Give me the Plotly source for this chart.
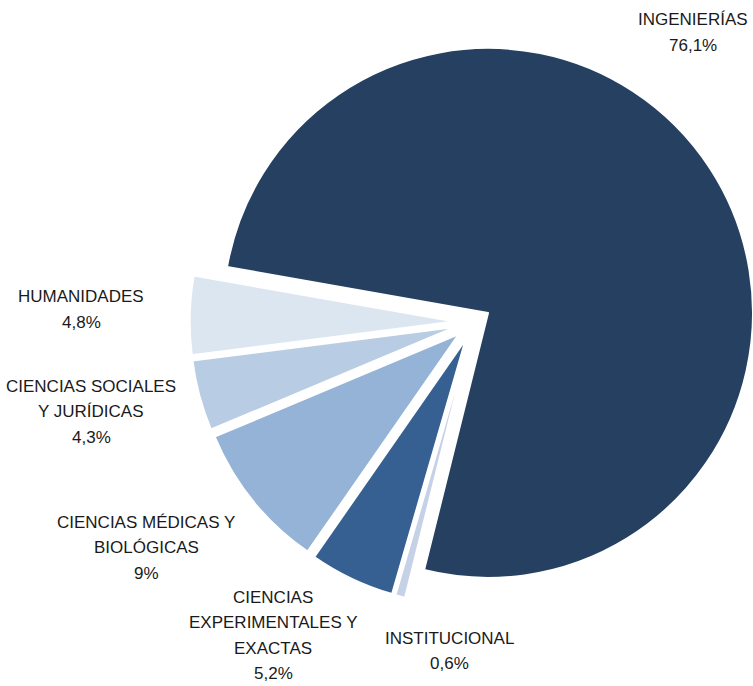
import math
import plotly.graph_objects as go

# ---- data ----
categories = ["INGENIERÍAS", "INSTITUCIONAL", "CIENCIAS EXPERIMENTALES Y EXACTAS",
              "CIENCIAS MÉDICAS Y BIOLÓGICAS", "CIENCIAS SOCIALES Y JURÍDICAS", "HUMANIDADES"]
shares = [76.1, 0.6, 5.2, 9.0, 4.3, 4.8]
label_lines = [["INGENIERÍAS"], ["INSTITUCIONAL"],
               ["CIENCIAS", "EXPERIMENTALES Y", "EXACTAS"],
               ["CIENCIAS MÉDICAS Y", "BIOLÓGICAS"],
               ["CIENCIAS SOCIALES", "Y JURÍDICAS"],
               ["HUMANIDADES"]]

# ---- style ----
colors = ["#254061", "#C5D1E6", "#366092", "#95B3D7", "#B8CCE4", "#DCE6F1"]
pulls = [0.063, 0.073, 0.073, 0.073, 0.073, 0.073]   # explosion, fraction of radius
ROTATION = -80                                         # start of first slice, deg clockwise from 12 o'clock
W, H = 753, 686
CX, CY, R = 474, 322, 265                              # pie centre / radius in pixels
label_pos = [(693, 20), (449, 638), (273, 597), (146, 522), (91, 386), (81, 297)]
LINE = 25.5
FONT = dict(family="Liberation Sans, Arial, sans-serif", size=17, color="#1a1a1a")

total = sum(shares)
fig = go.Figure()
cum = 0.0
for i, (v, p) in enumerate(zip(shares, pulls)):
    # exploded slice: each slice drawn by its own pie trace, offset along its bisector
    mid = math.radians(ROTATION + 360.0 * (cum + v / 2) / total)
    cum += v
    cx = CX + p * R * math.sin(mid)
    cy = CY - p * R * math.cos(mid)
    slice_colors = ["rgba(0,0,0,0)"] * len(shares)
    slice_colors[i] = colors[i]
    widths = [0] * len(shares)
    widths[i] = 2
    fig.add_trace(go.Pie(
        labels=categories, values=shares, sort=False, direction="clockwise",
        rotation=ROTATION, textinfo="none", hoverinfo="skip",
        marker=dict(colors=slice_colors, line=dict(color="white", width=widths)),
        domain=dict(x=[max(0, (cx - R) / W), min(1, (cx + R) / W)],
                    y=[max(0, 1 - (cy + R) / H), min(1, 1 - (cy - R) / H)]),
        showlegend=False,
    ))

def fmt(v):
    return f"{v:g}".replace(".", ",") + "%"

annotations = []
for lines, v, (px, py) in zip(label_lines, shares, label_pos):
    for k, t in enumerate(lines + [fmt(v)]):
        annotations.append(dict(
            x=px / W, y=1 - (py + k * LINE) / H, xref="paper", yref="paper",
            text=t, showarrow=False, xanchor="center", yanchor="middle", font=FONT,
        ))

fig.update_layout(
    width=W, height=H, margin=dict(l=0, r=0, t=0, b=0),
    paper_bgcolor="white", plot_bgcolor="white",
    annotations=annotations,
)

fig.write_html("out.html", config={"displayModeBar": False},
               post_script="document.body.style.margin='0';document.body.style.overflow='hidden';")
